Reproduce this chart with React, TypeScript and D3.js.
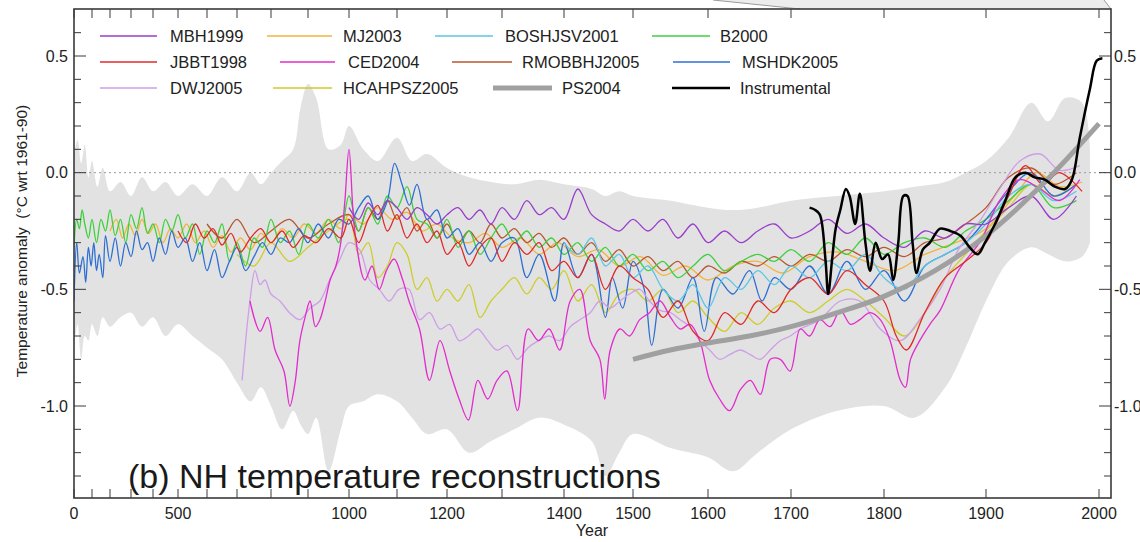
import React from 'react';
import * as d3 from 'd3';

type Pt = [number, number];

// Axis ticks
const xTickYears = d3.range(0, 2001, 100);
const xLabelYears = [0, 500, 1000, 1200, 1400, 1500, 1600, 1700, 1800, 1900, 2000];
const yMajorTicks = [-1.0, -0.5, 0.0, 0.5];
const yMinorTicks = d3.range(-13, 7).map((i) => i / 10);

// Uncertainty envelope (°C)
const envelopeYears = [0, 20, 40, 60, 80, 100, 130, 160, 200, 250, 300, 350, 400, 450, 500, 550, 600, 650, 700, 740, 770, 800, 830, 860, 880, 900, 920, 950, 980, 1000, 1030, 1060, 1100, 1130, 1160, 1200, 1240, 1280, 1320, 1360, 1400, 1440, 1460, 1480, 1500, 1550, 1600, 1630, 1660, 1700, 1750, 1800, 1830, 1860, 1880, 1900, 1920, 1940, 1955, 1970, 1985, 1992];
const envelopeUpper = [0.08, 0.14, 0.04, 0.12, -0.02, 0.05, -0.06, 0.02, -0.08, -0.04, -0.1, -0.02, -0.08, -0.04, -0.1, -0.05, -0.1, -0.02, -0.08, 0.0, -0.05, 0.0, 0.05, 0.1, 0.28, 0.38, 0.32, 0.1, 0.12, 0.2, 0.1, 0.05, 0.15, 0.05, 0.08, 0.02, -0.02, -0.04, -0.05, -0.03, -0.05, -0.07, -0.1, -0.08, -0.1, -0.12, -0.15, -0.16, -0.15, -0.12, -0.1, -0.08, -0.06, -0.04, 0.0, 0.05, 0.15, 0.3, 0.22, 0.32, 0.3, 0.1];
const envelopeLower = [-0.75, -0.65, -0.8, -0.7, -0.72, -0.65, -0.7, -0.62, -0.66, -0.62, -0.6, -0.66, -0.62, -0.7, -0.65, -0.7, -0.75, -0.8, -0.9, -0.98, -0.92, -1.0, -1.1, -1.02, -1.08, -1.12, -1.05, -1.28, -1.1, -1.0, -0.98, -0.95, -0.98, -1.05, -1.12, -1.1, -1.2, -1.15, -1.1, -1.05, -1.08, -1.15, -1.3, -1.2, -1.12, -1.18, -1.22, -1.28, -1.2, -1.1, -1.02, -1.0, -1.05, -0.92, -0.75, -0.55, -0.38, -0.32, -0.35, -0.38, -0.36, -0.3];

// Reconstructions: [year, anomaly °C]
const mbh1999: Pt[] = [[1000,-0.15],[1020,-0.2],[1040,-0.13],[1060,-0.18],[1080,-0.12],[1100,-0.15],[1120,-0.2],[1140,-0.15],[1160,-0.18],[1180,-0.22],[1200,-0.18],[1220,-0.15],[1240,-0.2],[1260,-0.16],[1280,-0.22],[1300,-0.15],[1320,-0.2],[1340,-0.12],[1360,-0.18],[1380,-0.15],[1400,-0.2],[1420,-0.07],[1440,-0.18],[1460,-0.22],[1480,-0.25],[1500,-0.2],[1520,-0.25],[1540,-0.2],[1560,-0.28],[1580,-0.22],[1600,-0.3],[1620,-0.25],[1640,-0.3],[1660,-0.25],[1680,-0.22],[1700,-0.28],[1720,-0.25],[1740,-0.2],[1760,-0.26],[1780,-0.22],[1800,-0.28],[1820,-0.32],[1840,-0.25],[1860,-0.28],[1880,-0.22],[1900,-0.22],[1920,-0.15],[1940,-0.1],[1960,-0.2],[1980,-0.1]];

const mj2003: Pt[] = [[200,-0.25],[230,-0.2],[260,-0.28],[290,-0.22],[320,-0.27],[350,-0.2],[380,-0.26],[410,-0.22],[440,-0.3],[470,-0.24],[500,-0.28],[530,-0.22],[560,-0.3],[590,-0.25],[620,-0.32],[650,-0.27],[680,-0.34],[710,-0.28],[740,-0.33],[770,-0.26],[800,-0.3],[830,-0.24],[860,-0.28],[890,-0.22],[920,-0.26],[950,-0.2],[980,-0.24],[1000,-0.18],[1030,-0.22],[1060,-0.15],[1090,-0.2],[1120,-0.17],[1150,-0.25],[1180,-0.22],[1210,-0.28],[1240,-0.3],[1270,-0.26],[1300,-0.32],[1330,-0.28],[1360,-0.35],[1390,-0.3],[1420,-0.36],[1450,-0.33],[1480,-0.4],[1510,-0.36],[1540,-0.44],[1570,-0.4],[1600,-0.46],[1630,-0.4],[1660,-0.38],[1690,-0.43],[1720,-0.36],[1750,-0.34],[1780,-0.38],[1810,-0.42],[1840,-0.35],[1870,-0.3],[1900,-0.24],[1925,-0.1],[1945,0.0],[1965,-0.06],[1985,-0.04]];

const boshjsv2001: Pt[] = [[1400,-0.3],[1420,-0.35],[1440,-0.28],[1460,-0.4],[1480,-0.35],[1500,-0.45],[1520,-0.4],[1540,-0.5],[1560,-0.55],[1580,-0.48],[1600,-0.58],[1620,-0.45],[1640,-0.5],[1660,-0.42],[1680,-0.48],[1700,-0.4],[1720,-0.45],[1740,-0.38],[1760,-0.42],[1780,-0.35],[1800,-0.45],[1820,-0.5],[1840,-0.4],[1860,-0.35],[1880,-0.3],[1900,-0.22],[1920,-0.1],[1940,-0.05],[1960,-0.12],[1980,-0.08]];

const b2000: Pt[] = [[0,-0.32],[15,-0.2],[30,-0.24],[45,-0.16],[60,-0.22],[80,-0.28],[100,-0.2],[125,-0.3],[150,-0.2],[175,-0.25],[200,-0.16],[225,-0.27],[250,-0.2],[275,-0.3],[300,-0.18],[325,-0.24],[350,-0.15],[375,-0.26],[400,-0.22],[425,-0.3],[450,-0.2],[475,-0.25],[500,-0.18],[525,-0.28],[550,-0.22],[575,-0.35],[600,-0.25],[625,-0.3],[650,-0.22],[675,-0.38],[700,-0.3],[725,-0.4],[750,-0.28],[775,-0.32],[800,-0.2],[825,-0.3],[850,-0.25],[875,-0.35],[900,-0.22],[925,-0.28],[950,-0.2],[975,-0.3],[1000,-0.1],[1020,-0.25],[1040,-0.15],[1060,-0.22],[1080,-0.1],[1100,-0.15],[1120,-0.06],[1140,-0.2],[1160,-0.22],[1180,-0.28],[1200,-0.2],[1220,-0.32],[1240,-0.25],[1260,-0.35],[1280,-0.28],[1300,-0.22],[1320,-0.3],[1340,-0.25],[1360,-0.32],[1380,-0.28],[1400,-0.35],[1420,-0.3],[1440,-0.38],[1460,-0.32],[1480,-0.4],[1500,-0.35],[1520,-0.42],[1540,-0.38],[1560,-0.45],[1580,-0.4],[1600,-0.35],[1620,-0.42],[1640,-0.38],[1660,-0.35],[1680,-0.38],[1700,-0.33],[1720,-0.38],[1740,-0.3],[1760,-0.35],[1780,-0.28],[1800,-0.35],[1820,-0.3],[1840,-0.28],[1860,-0.32],[1880,-0.25],[1900,-0.2],[1920,-0.12],[1940,-0.05],[1960,-0.15],[1980,-0.12]];

const jbbt1998: Pt[] = [[500,-0.25],[530,-0.3],[560,-0.22],[590,-0.28],[620,-0.24],[650,-0.31],[680,-0.26],[710,-0.34],[740,-0.28],[770,-0.24],[800,-0.3],[830,-0.25],[860,-0.32],[890,-0.27],[920,-0.3],[950,-0.24],[980,-0.28],[1000,-0.2],[1020,-0.3],[1040,-0.2],[1060,-0.14],[1080,-0.25],[1100,-0.18],[1120,-0.28],[1140,-0.22],[1160,-0.3],[1180,-0.25],[1200,-0.35],[1220,-0.3],[1240,-0.4],[1260,-0.32],[1280,-0.28],[1300,-0.38],[1320,-0.3],[1340,-0.35],[1360,-0.3],[1380,-0.42],[1400,-0.38],[1420,-0.45],[1440,-0.35],[1460,-0.5],[1480,-0.4],[1500,-0.45],[1520,-0.5],[1540,-0.62],[1560,-0.55],[1580,-0.68],[1600,-0.72],[1620,-0.6],[1640,-0.65],[1660,-0.55],[1680,-0.6],[1700,-0.5],[1720,-0.45],[1740,-0.52],[1760,-0.42],[1780,-0.48],[1800,-0.55],[1812,-0.7],[1822,-0.76],[1840,-0.6],[1860,-0.45],[1880,-0.38],[1900,-0.3],[1920,-0.1],[1935,0.03],[1950,-0.05],[1965,0.0],[1985,-0.08]];

const ced2004: Pt[] = [[738,-0.55],[768,-0.68],[790,-0.62],[811,-0.76],[835,-0.85],[851,-1.0],[865,-0.9],[878,-0.72],[892,-0.62],[905,-0.55],[918,-0.66],[929,-0.63],[942,-0.55],[954,-0.46],[968,-0.4],[980,-0.3],[990,-0.12],[1000,0.1],[1012,-0.25],[1033,-0.46],[1048,-0.4],[1063,-0.5],[1078,-0.42],[1094,-0.37],[1110,-0.45],[1124,-0.55],[1145,-0.67],[1165,-0.89],[1186,-0.72],[1205,-0.85],[1222,-0.97],[1239,-1.06],[1256,-0.89],[1274,-0.97],[1291,-0.89],[1308,-0.85],[1325,-1.02],[1342,-0.67],[1359,-0.72],[1376,-0.67],[1393,-0.76],[1409,-0.55],[1423,-0.5],[1438,-0.72],[1452,-0.8],[1459,-0.97],[1467,-0.76],[1481,-0.67],[1495,-0.7],[1509,-0.63],[1522,-0.6],[1536,-0.55],[1550,-0.62],[1563,-0.67],[1576,-0.65],[1589,-0.72],[1602,-0.89],[1614,-0.97],[1626,-1.02],[1639,-0.93],[1651,-0.89],[1663,-0.95],[1675,-0.8],[1687,-0.8],[1699,-0.85],[1710,-0.67],[1720,-0.7],[1731,-0.63],[1742,-0.66],[1753,-0.59],[1764,-0.65],[1774,-0.63],[1785,-0.6],[1796,-0.63],[1806,-0.72],[1816,-0.89],[1821,-0.92],[1826,-0.8],[1835,-0.72],[1845,-0.65],[1855,-0.59],[1873,-0.42],[1895,-0.29],[1912,-0.12],[1930,-0.03],[1948,-0.07],[1965,-0.12],[1983,-0.03]];

const rmobbhj2005: Pt[] = [[600,-0.22],[650,-0.28],[700,-0.2],[750,-0.3],[800,-0.25],[850,-0.2],[900,-0.28],[950,-0.22],[1000,-0.18],[1020,-0.25],[1040,-0.15],[1060,-0.2],[1080,-0.12],[1100,-0.2],[1120,-0.15],[1140,-0.25],[1160,-0.2],[1180,-0.28],[1200,-0.22],[1220,-0.3],[1240,-0.25],[1260,-0.3],[1280,-0.22],[1300,-0.28],[1320,-0.24],[1340,-0.3],[1360,-0.26],[1380,-0.32],[1400,-0.28],[1420,-0.35],[1440,-0.3],[1460,-0.38],[1480,-0.33],[1500,-0.4],[1520,-0.36],[1540,-0.42],[1560,-0.38],[1580,-0.45],[1600,-0.4],[1620,-0.43],[1640,-0.38],[1660,-0.4],[1680,-0.36],[1700,-0.4],[1720,-0.35],[1740,-0.38],[1760,-0.33],[1780,-0.36],[1800,-0.32],[1820,-0.36],[1840,-0.3],[1860,-0.28],[1880,-0.22],[1900,-0.15],[1920,-0.02],[1940,0.02],[1960,-0.05],[1980,0.0]];

const mshdk2005: Pt[] = [[0,-0.55],[15,-0.3],[30,-0.43],[50,-0.36],[65,-0.47],[80,-0.32],[95,-0.4],[110,-0.3],[125,-0.42],[140,-0.35],[160,-0.45],[175,-0.27],[200,-0.38],[225,-0.28],[250,-0.4],[275,-0.3],[300,-0.36],[325,-0.25],[350,-0.33],[375,-0.3],[400,-0.38],[425,-0.28],[450,-0.35],[475,-0.25],[500,-0.32],[525,-0.28],[550,-0.38],[575,-0.3],[600,-0.42],[625,-0.33],[650,-0.45],[675,-0.38],[700,-0.32],[725,-0.42],[750,-0.36],[775,-0.3],[800,-0.35],[825,-0.28],[850,-0.3],[875,-0.24],[900,-0.3],[925,-0.22],[950,-0.28],[975,-0.2],[1000,-0.22],[1020,-0.15],[1040,-0.1],[1060,-0.2],[1080,-0.12],[1095,0.04],[1110,-0.05],[1125,-0.14],[1140,-0.05],[1160,-0.2],[1180,-0.16],[1200,-0.28],[1220,-0.24],[1240,-0.35],[1260,-0.3],[1280,-0.38],[1300,-0.3],[1320,-0.28],[1340,-0.45],[1360,-0.35],[1385,-0.55],[1400,-0.3],[1420,-0.45],[1440,-0.35],[1460,-0.62],[1470,-0.45],[1485,-0.58],[1500,-0.38],[1515,-0.5],[1525,-0.74],[1540,-0.5],[1560,-0.58],[1580,-0.45],[1595,-0.68],[1610,-0.45],[1630,-0.52],[1650,-0.42],[1665,-0.55],[1680,-0.45],[1700,-0.5],[1720,-0.4],[1740,-0.52],[1760,-0.38],[1780,-0.5],[1800,-0.42],[1820,-0.55],[1840,-0.4],[1860,-0.35],[1880,-0.3],[1900,-0.2],[1920,-0.08],[1940,0.0],[1960,-0.1],[1980,-0.05]];

const dwj2005: Pt[] = [[715,-0.89],[738,-0.55],[753,-0.42],[768,-0.48],[782,-0.46],[800,-0.52],[824,-0.55],[850,-0.6],[878,-0.63],[905,-0.58],[929,-0.55],[955,-0.45],[978,-0.37],[1000,-0.3],[1022,-0.33],[1043,-0.46],[1063,-0.5],[1084,-0.55],[1104,-0.5],[1124,-0.5],[1145,-0.63],[1165,-0.6],[1186,-0.67],[1205,-0.65],[1222,-0.72],[1239,-0.7],[1256,-0.67],[1274,-0.72],[1291,-0.76],[1308,-0.74],[1325,-0.8],[1342,-0.75],[1359,-0.72],[1376,-0.7],[1393,-0.72],[1409,-0.66],[1423,-0.63],[1438,-0.6],[1452,-0.55],[1467,-0.58],[1481,-0.55],[1495,-0.52],[1509,-0.5],[1522,-0.55],[1536,-0.59],[1550,-0.6],[1563,-0.63],[1576,-0.66],[1589,-0.72],[1602,-0.76],[1614,-0.8],[1626,-0.78],[1639,-0.76],[1651,-0.78],[1663,-0.8],[1675,-0.76],[1687,-0.72],[1699,-0.7],[1710,-0.67],[1731,-0.63],[1753,-0.55],[1774,-0.55],[1796,-0.67],[1816,-0.72],[1835,-0.63],[1855,-0.5],[1873,-0.33],[1895,-0.2],[1912,-0.07],[1930,0.05],[1948,0.08],[1965,0.01],[1983,0.03]];

const hcahpsz2005: Pt[] = [[700,-0.35],[750,-0.4],[800,-0.3],[850,-0.38],[900,-0.32],[950,-0.25],[1000,-0.2],[1020,-0.35],[1040,-0.3],[1060,-0.45],[1080,-0.4],[1100,-0.3],[1120,-0.35],[1140,-0.5],[1160,-0.45],[1180,-0.55],[1200,-0.5],[1220,-0.55],[1240,-0.48],[1260,-0.62],[1280,-0.55],[1300,-0.5],[1320,-0.45],[1340,-0.52],[1360,-0.45],[1380,-0.5],[1400,-0.42],[1420,-0.55],[1440,-0.48],[1460,-0.6],[1480,-0.52],[1500,-0.5],[1520,-0.55],[1540,-0.5],[1560,-0.6],[1580,-0.55],[1600,-0.62],[1620,-0.68],[1640,-0.6],[1660,-0.65],[1680,-0.58],[1700,-0.55],[1720,-0.6],[1740,-0.55],[1760,-0.5],[1780,-0.55],[1800,-0.62],[1820,-0.7],[1840,-0.6],[1860,-0.45],[1880,-0.35],[1900,-0.25],[1920,-0.15],[1940,-0.05],[1960,-0.1],[1980,-0.05]];

const ps2004: Pt[] = [[1500,-0.8],[1550,-0.76],[1600,-0.73],[1650,-0.7],[1700,-0.66],[1750,-0.6],[1800,-0.53],[1850,-0.42],[1900,-0.27],[1950,-0.05],[2000,0.21]];

const instrumental: Pt[] = [[1720,-0.15],[1726,-0.16],[1731,-0.18],[1737,-0.37],[1740,-0.52],[1744,-0.38],[1748,-0.24],[1753,-0.16],[1759,-0.07],[1763,-0.1],[1769,-0.22],[1774,-0.09],[1780,-0.3],[1785,-0.42],[1791,-0.3],[1798,-0.37],[1804,-0.35],[1809,-0.46],[1814,-0.3],[1819,-0.1],[1823,-0.1],[1828,-0.3],[1832,-0.43],[1838,-0.33],[1845,-0.3],[1855,-0.24],[1865,-0.25],[1875,-0.27],[1884,-0.32],[1892,-0.35],[1899,-0.3],[1908,-0.22],[1917,-0.12],[1926,-0.02],[1935,0.0],[1943,-0.02],[1952,-0.03],[1961,-0.06],[1970,-0.07],[1976,-0.03],[1983,0.15],[1992,0.36],[1998,0.48],[2003,0.49]];

interface Series { name: string; color: string; width: number; data: Pt[] }

const reconstructions: Series[] = [
  { name: 'MJ2003', color: '#f2b43c', width: 1.3, data: mj2003 },
  { name: 'HCAHPSZ2005', color: '#cdcd2a', width: 1.3, data: hcahpsz2005 },
  { name: 'RMOBBHJ2005', color: '#b8562c', width: 1.3, data: rmobbhj2005 },
  { name: 'B2000', color: '#3cd03c', width: 1.3, data: b2000 },
  { name: 'MSHDK2005', color: '#2c6fd4', width: 1.3, data: mshdk2005 },
  { name: 'BOSHJSV2001', color: '#5cc6e6', width: 1.3, data: boshjsv2001 },
  { name: 'DWJ2005', color: '#cf9ee8', width: 1.3, data: dwj2005 },
  { name: 'CED2004', color: '#e22ccc', width: 1.3, data: ced2004 },
  { name: 'JBBT1998', color: '#e02a2a', width: 1.3, data: jbbt1998 },
  { name: 'MBH1999', color: '#9a3ccc', width: 1.3, data: mbh1999 },
];

const legendEntries = [
  { name: 'MBH1999', color: '#9a3ccc', width: 1.3, row: 0, x1: 100, x2: 157, tx: 170 },
  { name: 'JBBT1998', color: '#e02a2a', width: 1.3, row: 1, x1: 100, x2: 157, tx: 170 },
  { name: 'DWJ2005', color: '#cf9ee8', width: 1.3, row: 2, x1: 100, x2: 157, tx: 170 },
  { name: 'MJ2003', color: '#f2b43c', width: 1.3, row: 0, x1: 267, x2: 332, tx: 343 },
  { name: 'CED2004', color: '#e22ccc', width: 1.3, row: 1, x1: 280, x2: 335, tx: 348 },
  { name: 'HCAHPSZ2005', color: '#cdcd2a', width: 1.3, row: 2, x1: 273, x2: 332, tx: 343 },
  { name: 'BOSHJSV2001', color: '#5cc6e6', width: 1.3, row: 0, x1: 435, x2: 493, tx: 505 },
  { name: 'RMOBBHJ2005', color: '#b8562c', width: 1.3, row: 1, x1: 452, x2: 512, tx: 522 },
  { name: 'PS2004', color: '#a0a0a0', width: 5, row: 2, x1: 493, x2: 552, tx: 562 },
  { name: 'B2000', color: '#3cd03c', width: 1.3, row: 0, x1: 652, x2: 710, tx: 720 },
  { name: 'MSHDK2005', color: '#2c6fd4', width: 1.3, row: 1, x1: 673, x2: 730, tx: 742 },
  { name: 'Instrumental', color: '#000000', width: 2.5, row: 2, x1: 672, x2: 730, tx: 740 },
];

const FONT = '"Liberation Sans", Arial, Helvetica, sans-serif';

export default function App() {
  const W = 1140;
  const H = 542;
  const left = 74, right = 1111, top = 9, bottom = 498;

  // Warped year axis: tick positions widen toward the present
  const x = d3.scaleLinear()
    .domain(xTickYears)
    .range([74, 92, 110, 131, 153, 178, 207, 237, 271, 308, 349, 397, 447, 502, 564, 633, 708, 791, 884, 986, 1099]);
  const y = d3.scaleLinear().domain([-1, 0.5]).range([406, 56]);

  const line = d3.line<Pt>()
    .x((d) => x(d[0]))
    .y((d) => y(d[1]))
    .curve(d3.curveCatmullRom.alpha(0.5));

  const envelope = d3.area<number>()
    .x((i) => x(envelopeYears[i]))
    .y0((i) => y(envelopeLower[i]))
    .y1((i) => y(envelopeUpper[i]))
    .curve(d3.curveCatmullRom.alpha(0.5))(d3.range(envelopeYears.length));

  const legendRowY = [36, 62, 88];
  const axisColor = '#3a3a3a';

  return (
    <svg width={W} height={H} viewBox={`0 0 ${W} ${H}`}
      style={{ position: 'absolute', left: 0, top: 0, display: 'block', background: '#fff' }}
      fontFamily={FONT}>
      <defs>
        <clipPath id="plotClip">
          <rect x={left} y={top} width={right - left} height={bottom - top} />
        </clipPath>
      </defs>

      {/* shaded strip along the upper right edge */}
      <polygon points={`713,0 1104,0 1111,9 800,9`} fill="#ececec" />
      <line x1={713} y1={0} x2={800} y2={9} stroke="#9a9a9a" strokeWidth={1} />
      <line x1={1104} y1={0} x2={1111} y2={9} stroke="#9a9a9a" strokeWidth={1} />

      <g clipPath="url(#plotClip)">
        <path d={envelope ?? ''} fill="#e2e2e2" stroke="none" />
        <line x1={left} x2={right} y1={y(0)} y2={y(0)} stroke="#9a9a9a" strokeWidth={1} strokeDasharray="2,3" />
        {reconstructions.map((s) => (
          <path key={s.name} d={line(s.data) ?? ''} fill="none" stroke={s.color} strokeWidth={s.width} strokeLinejoin="round" />
        ))}
        <path d={line(ps2004) ?? ''} fill="none" stroke="#a0a0a0" strokeWidth={5} strokeLinecap="butt" />
        <path d={line(instrumental) ?? ''} fill="none" stroke="#000" strokeWidth={2.5} strokeLinejoin="round" />
      </g>

      {/* frame */}
      <rect x={left} y={top} width={right - left} height={bottom - top} fill="none" stroke={axisColor} strokeWidth={1.6} />

      {/* x ticks, bottom and top */}
      {xTickYears.map((yr) => (
        <g key={`xt${yr}`}>
          <line x1={x(yr)} x2={x(yr)} y1={bottom} y2={bottom - 9} stroke={axisColor} strokeWidth={1} />
          <line x1={x(yr)} x2={x(yr)} y1={top} y2={top + 9} stroke={axisColor} strokeWidth={1} />
        </g>
      ))}
      {xLabelYears.map((yr) => (
        <text key={`xl${yr}`} x={x(yr)} y={519} textAnchor="middle" fontSize={16} fill="#222">{yr}</text>
      ))}
      <text x={592} y={536} textAnchor="middle" fontSize={16} fill="#222">Year</text>

      {/* y ticks, left and right */}
      {yMinorTicks.map((v) => {
        const major = yMajorTicks.some((m) => Math.abs(m - v) < 1e-9);
        const len = major ? 12 : 7;
        return (
          <g key={`yt${v}`}>
            <line x1={left} x2={left + len} y1={y(v)} y2={y(v)} stroke={axisColor} strokeWidth={1} />
            <line x1={right} x2={right - len} y1={y(v)} y2={y(v)} stroke={axisColor} strokeWidth={1} />
          </g>
        );
      })}
      {yMajorTicks.map((v) => (
        <g key={`yl${v}`}>
          <text x={68} y={y(v)} dy="0.36em" textAnchor="end" fontSize={16} fill="#222">{v.toFixed(1)}</text>
          <text x={1114} y={y(v)} dy="0.36em" textAnchor="start" fontSize={16} fill="#222">{v.toFixed(1)}</text>
        </g>
      ))}
      <text transform="translate(27,241) rotate(-90)" textAnchor="middle" fontSize={15.5} fill="#222"
        style={{ whiteSpace: 'pre' }}>{'Temperature anomaly  (°C wrt 1961-90)'}</text>

      {/* legend */}
      {legendEntries.map((e) => (
        <g key={`lg${e.name}`}>
          <line x1={e.x1} x2={e.x2} y1={legendRowY[e.row]} y2={legendRowY[e.row]} stroke={e.color} strokeWidth={e.width} />
          <text x={e.tx} y={legendRowY[e.row]} dy="0.36em" fontSize={16.5} fill="#222">{e.name}</text>
        </g>
      ))}

      <text x={128} y={488} fontSize={34} fill="#1a1a1a">(b) NH temperature reconstructions</text>
    </svg>
  );
}
